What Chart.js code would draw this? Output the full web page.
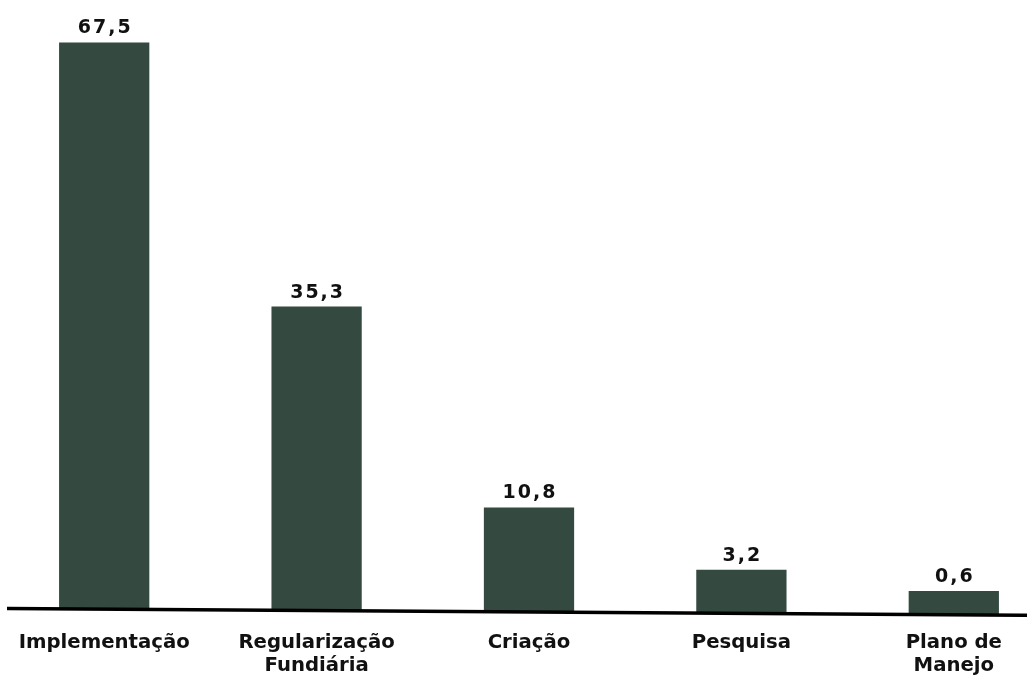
<!DOCTYPE html>
<html lang="pt">
<head>
  <meta charset="UTF-8" />
  <title>Gráfico</title>
  <script src="https://cdn.jsdelivr.net/npm/chart.js"></script>
  <style>
    html, body { margin: 0; padding: 0; background: #fff; overflow: hidden; }
    .wrap { position: absolute; left: -2px; top: 0; width: 1062px; height: 676px; }
  </style>
</head>
<body>

<div class="wrap"><canvas id="grafico"></canvas></div>

<script>
// dados do gráfico
const categorias = [
  'Implementação',
  ['Regularização', 'Fundiária'],
  'Criação',
  'Pesquisa',
  ['Plano de', 'Manejo']
];
const valores = [67.5, 35.3, 10.8, 3.2, 0.6];
const rotulos = ['67,5', '35,3', '10,8', '3,2', '0,6'];

const yMin = -2.32;
const yMax = 72.68;
const corBarra = '#344a40';
const fonte = "'DejaVu Sans', Verdana, sans-serif";

// linha do eixo levemente inclinada + rótulos de valor
const eixoPlugin = {
  id: 'eixo',
  afterDatasetsDraw(chart) {
    const ctx = chart.ctx;
    const area = chart.chartArea;
    const x0 = 9, x1 = chart.width;
    const y0 = area.bottom - 6.5, y1 = area.bottom + 0.5;

    ctx.save();
    // tapa o pé das barras abaixo da linha
    ctx.fillStyle = '#fff';
    ctx.beginPath();
    ctx.moveTo(x0 - 9, y0);
    ctx.lineTo(x1, y1);
    ctx.lineTo(x1, y1 + 10);
    ctx.lineTo(x0 - 9, y0 + 10);
    ctx.closePath();
    ctx.fill();

    ctx.strokeStyle = '#000';
    ctx.lineWidth = 3.5;
    ctx.beginPath();
    ctx.moveTo(x0, y0);
    ctx.lineTo(x1, y1);
    ctx.stroke();

    // valores acima das barras
    const meta = chart.getDatasetMeta(0);
    ctx.fillStyle = '#111';
    ctx.font = 'bold 19px ' + fonte;
    ctx.letterSpacing = '2px';
    ctx.textAlign = 'center';
    ctx.textBaseline = 'alphabetic';
    meta.data.forEach((bar, i) => {
      ctx.fillText(rotulos[i], bar.x + 1, bar.y - 9);
    });
    ctx.restore();
  }
};

new Chart(document.getElementById('grafico'), {
  type: 'bar',
  data: {
    labels: categorias,
    datasets: [{
      data: valores,
      base: yMin,
      backgroundColor: corBarra,
      borderWidth: 0,
      barPercentage: 0.425,
      categoryPercentage: 1
    }]
  },
  options: {
    responsive: true,
    maintainAspectRatio: false,
    animation: false,
    layout: { padding: 0 },
    plugins: {
      legend: { display: false },
      tooltip: { enabled: false }
    },
    scales: {
      x: {
        grid: { display: false, drawTicks: false },
        border: { display: false },
        ticks: {
          color: '#111',
          padding: 16,
          maxRotation: 0,
          autoSkip: false,
          font: { family: fonte, size: 19.7, weight: 'bold', lineHeight: 1.18 }
        },
        afterFit(scale) { scale.height = 61; }
      },
      y: {
        display: false,
        min: yMin,
        max: yMax
      }
    }
  },
  plugins: [eixoPlugin]
});
</script>

</body>
</html>
